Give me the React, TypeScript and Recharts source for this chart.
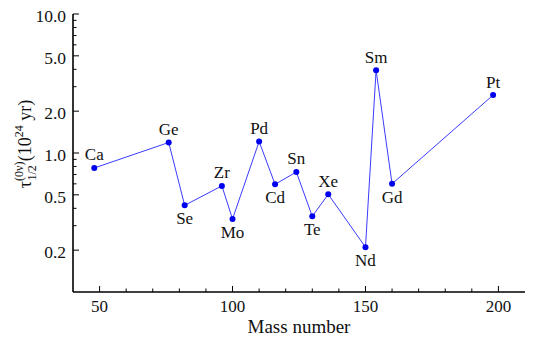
import { LineChart, Line, XAxis, YAxis, LabelList } from "recharts";

const masses = [48, 76, 82, 96, 100, 110, 116, 124, 130, 136, 150, 154, 160, 198];
const elements = ["Ca", "Ge", "Se", "Zr", "Mo", "Pd", "Cd", "Sn", "Te", "Xe", "Nd", "Sm", "Gd", "Pt"];
const halfLives = [0.78, 1.19, 0.42, 0.58, 0.335, 1.21, 0.595, 0.73, 0.35, 0.505, 0.21, 3.94, 0.6, 2.61];
const labelsBelow = ["Se", "Mo", "Cd", "Te", "Nd", "Gd"];

const xMajor = [50, 100, 150, 200];
const xMinor = [60, 70, 80, 90, 110, 120, 130, 140, 160, 170, 180, 190];
const yMajor = [0.2, 0.5, 1, 2, 5, 10];
const yMinor = [0.3, 0.4, 0.6, 0.7, 0.8, 0.9, 3, 4, 6, 7, 8, 9];

const data = masses.map((m, i) => ({ mass: m, tau: halfLives[i], name: elements[i] }));

const FONT = "Liberation Serif, DejaVu Serif, serif";
const serif = { fontFamily: FONT };
const xTicks = [...xMajor, ...xMinor].sort((a, b) => a - b);
const yTicks = [...yMajor, ...yMinor].sort((a, b) => a - b);

function BottomTick(props: any) {
  const { x, y, payload } = props;
  const major = xMajor.includes(payload.value);
  return (
    <g>
      <line x1={x} x2={x} y1={y} y2={y - (major ? 6 : 3.5)} stroke="#000" />
      {major && (
        <text x={x} y={y + 19.5} textAnchor="middle" style={serif} fontSize={17} fill="#111">
          {payload.value}
        </text>
      )}
    </g>
  );
}

function TopTick(props: any) {
  const { x, y, payload } = props;
  const major = xMajor.includes(payload.value);
  return <line x1={x} x2={x} y1={y} y2={y + (major ? 6 : 3.5)} stroke="#000" />;
}

function LeftTick(props: any) {
  const { x, y, payload } = props;
  const major = yMajor.includes(payload.value);
  return (
    <g>
      <line x1={x} x2={x + (major ? 6 : 3.5)} y1={y} y2={y} stroke="#000" />
      {major && (
        <text x={x - 7} y={y + 8} textAnchor="end" style={serif} fontSize={17.5} fill="#111">
          {payload.value.toFixed(1)}
        </text>
      )}
    </g>
  );
}

function RightTick(props: any) {
  const { x, y, payload } = props;
  const major = yMajor.includes(payload.value);
  return <line x1={x} x2={x - (major ? 6 : 3.5)} y1={y} y2={y} stroke="#000" />;
}

function ElementLabel(props: any) {
  const { x, y, value } = props;
  const below = labelsBelow.includes(value);
  return (
    <text x={x} y={below ? y + 19 : y - 7.5} textAnchor="middle" style={serif} fontSize={17} fill="#111">
      {value}
    </text>
  );
}

function YTitle() {
  const cx = 31;
  const cy = 144;
  return (
    <text
      x={cx}
      y={cy}
      transform={`rotate(-90, ${cx}, ${cy})`}
      textAnchor="middle"
      style={serif}
      fontSize={18}
      fill="#111"
    >
      τ
      <tspan fontSize={12} dy={-8}>(0ν)</tspan>
      <tspan fontSize={12} dx={-19} dy={13}>1/2</tspan>
      <tspan dx={4} dy={-5}>(10</tspan>
      <tspan fontSize={12} dy={-8}>24</tspan>
      <tspan dy={8}> yr)</tspan>
    </text>
  );
}

function XTitle(props: any) {
  const { viewBox } = props;
  const cx = viewBox.x + viewBox.width / 2;
  return (
    <text x={cx} y={333} textAnchor="middle" style={serif} fontSize={19} fill="#111">
      Mass number
    </text>
  );
}

export default function App() {
  return (
    <div style={{ position: "absolute", left: 0, top: 0, fontFamily: FONT }}>
      <LineChart width={533} height={346} data={data} margin={{ top: 14, right: 8, left: 0, bottom: 0 }}>
        <XAxis
          dataKey="mass"
          type="number"
          domain={[40, 210]}
          allowDataOverflow
          ticks={xTicks}
          interval={0}
          height={54}
          tickSize={0}
          tickMargin={0}
          tickLine={false}
          axisLine={{ stroke: "#000", strokeWidth: 1.6 }}
          tick={<BottomTick />}
          label={{ content: (p: any) => <XTitle {...p} /> }}
        />
        <XAxis
          xAxisId="top"
          orientation="top"
          dataKey="mass"
          type="number"
          domain={[40, 210]}
          allowDataOverflow
          ticks={xTicks}
          interval={0}
          height={0}
          tickSize={0}
          tickMargin={0}
          tickLine={false}
          axisLine={{ stroke: "#000", strokeWidth: 1.6 }}
          tick={<TopTick />}
        />
        <YAxis
          scale="log"
          type="number"
          domain={[0.1, 10]}
          allowDataOverflow
          ticks={yTicks}
          interval={0}
          width={73}
          tickSize={0}
          tickMargin={0}
          tickLine={false}
          axisLine={{ stroke: "#000", strokeWidth: 1.6 }}
          tick={<LeftTick />}
          label={{ content: () => <YTitle /> }}
        />
        <YAxis
          yAxisId="right"
          orientation="right"
          scale="log"
          type="number"
          domain={[0.1, 10]}
          allowDataOverflow
          ticks={yTicks}
          interval={0}
          width={0}
          tickSize={0}
          tickMargin={0}
          tickLine={false}
          axisLine={{ stroke: "#000", strokeWidth: 1.6 }}
          tick={<RightTick />}
        />
        <Line
          dataKey="tau"
          type="linear"
          stroke="#3b3bff"
          strokeWidth={1}
          dot={{ r: 3, fill: "#0000f0", stroke: "none" }}
          activeDot={false}
          isAnimationActive={false}
        >
          <LabelList dataKey="name" content={<ElementLabel />} />
        </Line>
      </LineChart>
    </div>
  );
}
